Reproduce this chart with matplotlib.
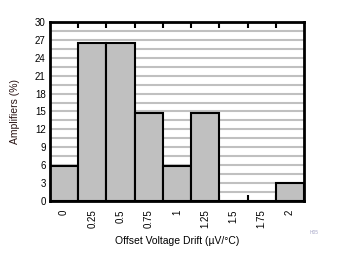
import numpy as np
import matplotlib.pyplot as plt

plt.rcParams['font.family'] = ['Liberation Sans', 'DejaVu Sans']

# histogram data
drift_labels = ['0', '0.25', '0.5', '0.75', '1', '1.25', '1.5', '1.75', '2']
amplifiers_pct = [5.88, 26.47, 26.47, 14.71, 5.88, 14.71, 0, 0, 2.94]
y_ticks = list(range(0, 31, 3))

fig = plt.figure(figsize=(3.37, 2.62), dpi=100)
ax = fig.add_axes([0.148, 0.233, 0.754, 0.683])

x = np.arange(len(drift_labels))

# light grid every 1.5 %
for g in np.arange(1.5, 30, 1.5):
    ax.axhline(g, color='#c0c0c0', lw=1.5, zorder=1)

ax.bar(x, amplifiers_pct, width=1.0, color='#c0c0c0', edgecolor='black',
       linewidth=1.5, zorder=2)

ax.set_xlim(-0.5, len(drift_labels) - 0.5)
ax.set_ylim(0, 30)

ax.set_xticks(x)
ax.set_xticklabels(drift_labels, rotation=90, fontsize=7)
ax.set_xticks(np.arange(0.5, len(drift_labels) - 0.5), minor=True)
ax.tick_params(axis='x', which='major', length=0, pad=6)
ax.tick_params(axis='x', which='minor', direction='in', top=True, bottom=True,
               length=4, width=1.5, color='black')

ax.set_yticks(y_ticks)
ax.tick_params(axis='y', length=0, labelsize=7, pad=3)

for s in ax.spines.values():
    s.set_linewidth(2)
    s.set_zorder(3)

ax.set_xlabel('Offset Voltage Drift (µV/°C)', fontsize=7.5, labelpad=6)
ax.set_ylabel('Amplifiers (%)', fontsize=7.5, color='#2a1414', labelpad=11)

fig.text(0.92, 0.105, 'H05', fontsize=3.5, color='#a8a8c8')

fig.savefig('out.png', dpi=100)
